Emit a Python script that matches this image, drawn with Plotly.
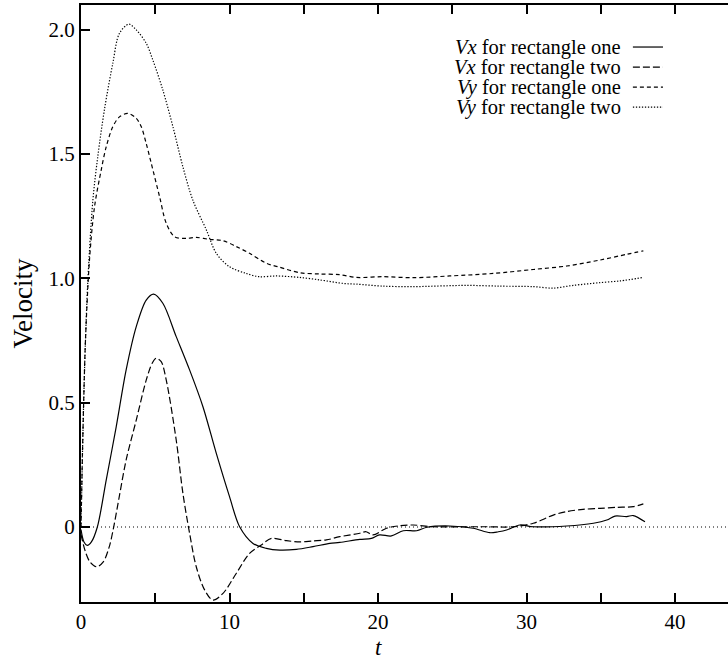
import plotly.graph_objects as go

# ---- data ----
t_vx1 = [0, 0.2, 0.42, 0.7, 1.1, 1.7, 2.37, 3.04, 3.72, 4.39, 4.89, 5.51, 6.41, 7.31, 8.21,
         9.11, 10.0, 10.68, 11.58, 12.48, 13.38, 14.5, 15.62, 16.75, 17.42, 18.77, 19.55,
         20.1, 20.9, 21.7, 22.6, 23.3, 24.83, 26.4, 27.53, 28.1, 28.65, 29.55, 30.45, 32.7,
         34.5, 35.4, 35.95, 36.74, 37.18, 37.97]
vx1 = [-0.01, -0.06, -0.074, -0.06, 0.0, 0.19, 0.403, 0.632, 0.806, 0.913, 0.937, 0.9, 0.766,
       0.632, 0.484, 0.296, 0.122, 0.001, -0.066, -0.086, -0.093, -0.09, -0.079, -0.066,
       -0.062, -0.05, -0.046, -0.032, -0.036, -0.015, -0.015, -0.001, 0.004, -0.005, -0.023,
       -0.019, -0.012, 0.008, 0.001, 0.004, 0.015, 0.028, 0.044, 0.042, 0.046, 0.021]

t_vx2 = [0, 0.3, 0.6, 1.05, 1.5, 1.9, 2.2, 2.6, 3.04, 3.72, 4.39, 4.8, 5.07, 5.4, 5.74, 6.41,
         6.86, 7.31, 7.76, 8.32, 8.88, 9.56, 10.46, 11.35, 12.14, 12.82, 13.83, 14.73, 15.6,
         16.52, 17.42, 18.77, 19.2, 19.66, 20.57, 21.46, 22.36, 23.7, 25.96, 27.3, 29.1,
         30.45, 31.8, 32.7, 33.8, 34.94, 36.07, 37.18, 37.86]
vx2 = [-0.03, -0.1, -0.14, -0.16, -0.14, -0.08, 0.0, 0.13, 0.27, 0.43, 0.591, 0.66, 0.679,
       0.665, 0.591, 0.35, 0.136, -0.025, -0.16, -0.253, -0.294, -0.267, -0.186, -0.106,
       -0.072, -0.046, -0.055, -0.06, -0.056, -0.052, -0.039, -0.025, -0.019, -0.032,
       -0.005, 0.005, 0.008, 0.001, 0.001, 0.001, 0.001, 0.015, 0.048, 0.062, 0.071, 0.075,
       0.079, 0.082, 0.093]

t_vy1 = [0, 0.1, 0.2, 0.3, 0.57, 0.91, 1.36, 1.70, 2.14, 2.59, 3.15, 3.72, 4.06, 4.39, 4.73,
         5.29, 5.74, 6.30, 7.09, 7.76, 8.66, 9.56, 10.46, 11.35, 12.48, 13.26, 14.73, 16.07,
         17.4, 18.55, 20.3, 22.36, 24.83, 27.75, 30.45, 32.7, 34.94, 36.74, 37.86]
vy1 = [0.0, 0.3, 0.55, 0.75, 1.074, 1.288, 1.436, 1.53, 1.61, 1.65, 1.664, 1.644, 1.61, 1.543,
       1.463, 1.329, 1.222, 1.168, 1.161, 1.165, 1.157, 1.152, 1.128, 1.101, 1.061, 1.047,
       1.023, 1.018, 1.015, 1.004, 1.007, 1.003, 1.01, 1.02, 1.036, 1.05, 1.074, 1.097, 1.111]

t_vy2 = [0, 0.1, 0.2, 0.3, 0.46, 0.8, 1.13, 1.58, 2.14, 2.59, 3.22, 3.72, 4.39, 4.84, 5.51,
         6.19, 6.86, 7.53, 8.44, 9.11, 10.0, 11.13, 12.0, 13.15, 14.73, 16.07, 17.64, 18.55,
         20.34, 22.36, 25.96, 28.2, 30.45, 31.8, 33.14, 34.94, 36.3, 37.86]
vy2 = [0.0, 0.3, 0.55, 0.75, 0.99, 1.315, 1.49, 1.68, 1.865, 1.986, 2.023, 2.0, 1.946, 1.878,
       1.758, 1.61, 1.449, 1.315, 1.195, 1.101, 1.047, 1.02, 1.007, 1.01, 1.004, 0.994, 0.98,
       0.977, 0.969, 0.967, 0.972, 0.969, 0.967, 0.961, 0.972, 0.983, 0.99, 1.004]

legend_labels = ["<i>Vx</i> for rectangle one", "<i>Vx</i> for rectangle two",
                 "<i>Vy</i> for rectangle one", "<i>Vy</i> for rectangle two"]
x_tickvals = [0, 5, 10, 15, 20, 25, 30, 35, 40]
x_ticktext = ["0", "", "10", "", "20", "", "30", "", "40"]
y_tickvals = [0, 0.5, 1.0, 1.5, 2.0]
y_ticktext = ["0", "0.5", "1.0", "1.5", "2.0"]
x_title = "<i>t</i>"
x_title_pos = 20
y_title = "Velocity"

FONT = "Liberation Serif, Times New Roman, serif"
dashes = ["solid", "7px,3px", "4px,3px", "1.3px,1.7px"]
series = [(t_vx1, vx1), (t_vx2, vx2), (t_vy1, vy1), (t_vy2, vy2)]

fig = go.Figure()
for (tt, vv), d, name in zip(series, dashes, legend_labels):
    fig.add_trace(go.Scatter(x=tt, y=vv, mode="lines", name=name, showlegend=False,
                             line=dict(color="black", width=1.2, dash=d, shape="spline",
                                       smoothing=0.9)))

# zero reference line
fig.add_shape(type="line", xref="paper", yref="y", x0=0, x1=1, y0=0, y1=0,
              line=dict(color="black", width=1, dash="1px,3px"))

# custom legend: text on left, line sample on right
row_y = [0.9296, 0.8961, 0.8626, 0.8291]
for lab, d, yy in zip(legend_labels, dashes, row_y):
    fig.add_annotation(xref="paper", yref="paper", x=0.8377, y=yy, text=lab,
                       showarrow=False, xanchor="right", yanchor="middle",
                       font=dict(family=FONT, size=20.5, color="black"))
    fig.add_shape(type="line", xref="paper", yref="paper", x0=0.853, x1=0.8995,
                  y0=yy, y1=yy, line=dict(color="black", width=1.2, dash=d))

# x-axis title (placed under t = 20 as in the reference)
fig.add_annotation(xref="x", yref="paper", x=x_title_pos, y=-0.0755, text=x_title,
                   showarrow=False, xanchor="center", yanchor="middle",
                   font=dict(family=FONT, size=23, color="black"))

fig.update_layout(
    width=728, height=661,
    margin=dict(l=81, r=0, t=5, b=59),
    paper_bgcolor="white", plot_bgcolor="white",
    font=dict(family=FONT, size=21, color="black"),
    showlegend=False,
    xaxis=dict(range=[0, 43.56], tickvals=x_tickvals, ticktext=x_ticktext,
               ticks="inside", ticklen=9, tickwidth=1.5, tickcolor="black",
               showline=True, linecolor="black", linewidth=2, mirror="ticks",
               showgrid=False, zeroline=False,
               tickfont=dict(family=FONT, size=21)),
    yaxis=dict(range=[-0.3017, 2.1], tickvals=y_tickvals, ticktext=y_ticktext,
               ticks="inside", ticklen=9, tickwidth=1.5, tickcolor="black",
               showline=True, linecolor="black", linewidth=2, mirror=False,
               showgrid=False, zeroline=False,
               title=dict(text=y_title, font=dict(family=FONT, size=27), standoff=8),
               tickfont=dict(family=FONT, size=21)),
)

fig.write_html("out.html")
